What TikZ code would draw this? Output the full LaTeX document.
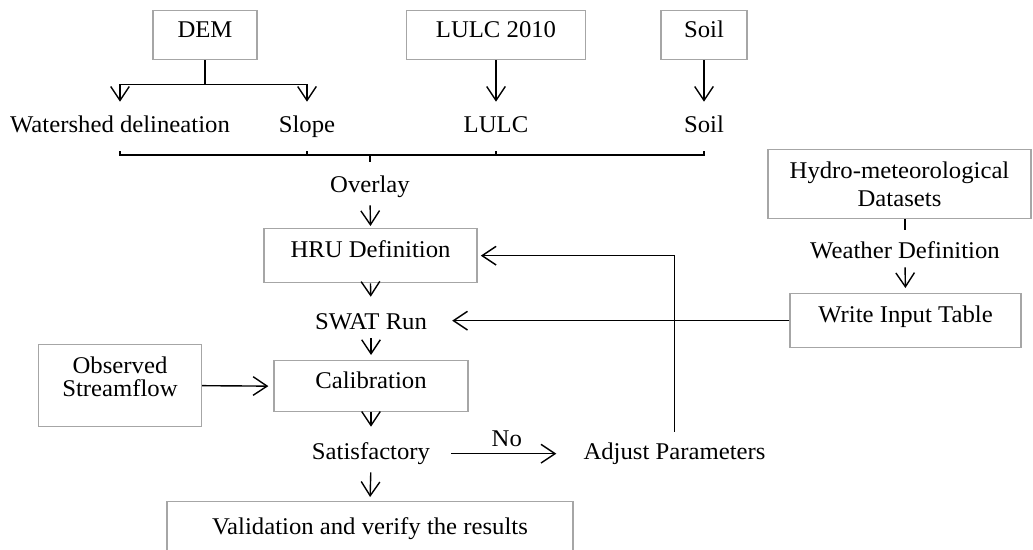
\documentclass[tikz,border=0pt]{standalone}
\usepackage{fontspec}
\setmainfont{Liberation Serif}[FakeStretch=1.03]
\usepackage{tikz}
\usetikzlibrary{arrows.meta, positioning, calc}

\begin{document}
\begin{tikzpicture}[x=0.75pt, y=-0.75pt,
    box/.style={draw=gray!70, line width=1pt, inner sep=0pt, anchor=north, align=center, font=\fontsize{18}{20}\selectfont},
    lbl/.style={inner sep=0pt, anchor=base, text height=12pt, text depth=4pt, font=\fontsize{18}{20}\selectfont},
    arr/.style={-{Straight Barb[length=10.5pt, width=14pt]}, line width=1.05pt},
    ln/.style={line width=1.05pt},
]
    \clip (0,0) rectangle (1033,550);

    % input data
    \node[box, minimum width=78pt, text height=20.25pt, text depth=16.5pt] (dem) at (205,10) {DEM};
    \node[box, minimum width=134.25pt, text height=20.25pt, text depth=16.5pt] (lulcbox) at (496,10) {LULC 2010};
    \node[box, minimum width=64.5pt, text height=20.25pt, text depth=16.5pt] (soilbox) at (704,10) {Soil};

    \node[lbl] (ws) at (120,132) {Watershed delineation};
    \node[lbl] (slope) at (307,132) {Slope};
    \node[lbl] (lulc) at (496,132) {LULC};
    \node[lbl] (soil) at (704,132) {Soil};
    \coordinate (merge) at (370,155);

    \draw[ln] (dem.south) -- ++(0,24) coordinate (demfork);
    \draw[arr, shorten >=10.5pt] (demfork) -| (ws.north);
    \draw[arr, shorten >=10.5pt] (demfork) -| (slope.north);
    \draw[arr, shorten >=10.5pt] (lulcbox.south) -- (lulc.north);
    \draw[arr, shorten >=10.5pt] (soilbox.south) -- (soil.north);

    % overlay bracket
    \draw[ln] (ws.south |- merge) ++(0,-4) -- (ws.south |- merge) -- (soil.south |- merge) -- ++(0,-4);
    \draw[ln] (slope.south |- merge) -- ++(0,-4);
    \draw[ln] (lulc.south |- merge) -- ++(0,-4);
    \draw[ln] (merge) -- ++(0,7);

    % model chain
    \node[lbl] (overlay) at (370,192) {Overlay};
    \node[box, minimum width=159.75pt, text height=21.75pt, text depth=18.75pt] (hru) at (370.5,228) {HRU Definition};
    \node[lbl] (swat) at (371,329) {SWAT Run};
    \node[box, minimum width=145.5pt, text height=21pt, text depth=17.25pt] (calib) at (371,360) {Calibration};
    \node[lbl] (satis) at (371,459) {Satisfactory};
    \node[lbl] (adjust) at (674.5,459) {Adjust Parameters};
    \node[box, minimum width=304.5pt, text height=24.75pt, text depth=15pt] (valid) at (370,501) {Validation and verify the results};
    \node[box, minimum width=122.25pt, minimum height=61.5pt, text depth=13.5pt, font=\fontsize{18}{17.25}\selectfont] (obs) at (120,344) {Observed\\Streamflow};

    \draw[arr, shorten <=5.8pt, shorten >=1.5pt] (overlay.south) -- (hru.north);
    \draw[arr, shorten >=12pt] (hru.south) -- (swat.north);
    \draw[arr, shorten <=2.8pt, shorten >=3.75pt] (swat.south) -- (calib.north);
    \draw[arr, shorten >=12pt] (calib.south) -- (satis.north);
    \draw[arr, shorten <=5.8pt, shorten >=3pt] (satis.south) -- (valid.north);
    \draw[arr, shorten >=3.75pt] (obs.east) -- (calib.west);
    \draw[arr, shorten <=15.75pt, shorten >=20.25pt] (satis.east) -- node[lbl, above=0.5pt] (no) {No} (adjust.west);
    \draw[arr, shorten <=8.25pt, shorten >=2.4pt] (adjust.north) |- (hru.east);

    % weather input
    \node[box, minimum width=197.25pt, minimum height=51.75pt, text depth=-5.5pt, font=\fontsize{18}{21}\selectfont] (hydro) at (899.5,149) {Hydro-meteorological\\Datasets};
    \node[lbl] (weather) at (905,258) {Weather Definition};
    \node[box, minimum width=173.25pt, text height=21.75pt, text depth=18.75pt] (wit) at (905.5,293) {Write Input Table};

    \draw[ln, shorten >=9pt] (hydro.south -| weather.north) -- (weather.north);
    \draw[arr, shorten <=2.8pt, shorten >=3.75pt] (weather.south) -- (wit.north);
    \draw[arr, shorten >=18.75pt] (wit.west) -- (wit.west -| swat.east);
\end{tikzpicture}
\end{document}
